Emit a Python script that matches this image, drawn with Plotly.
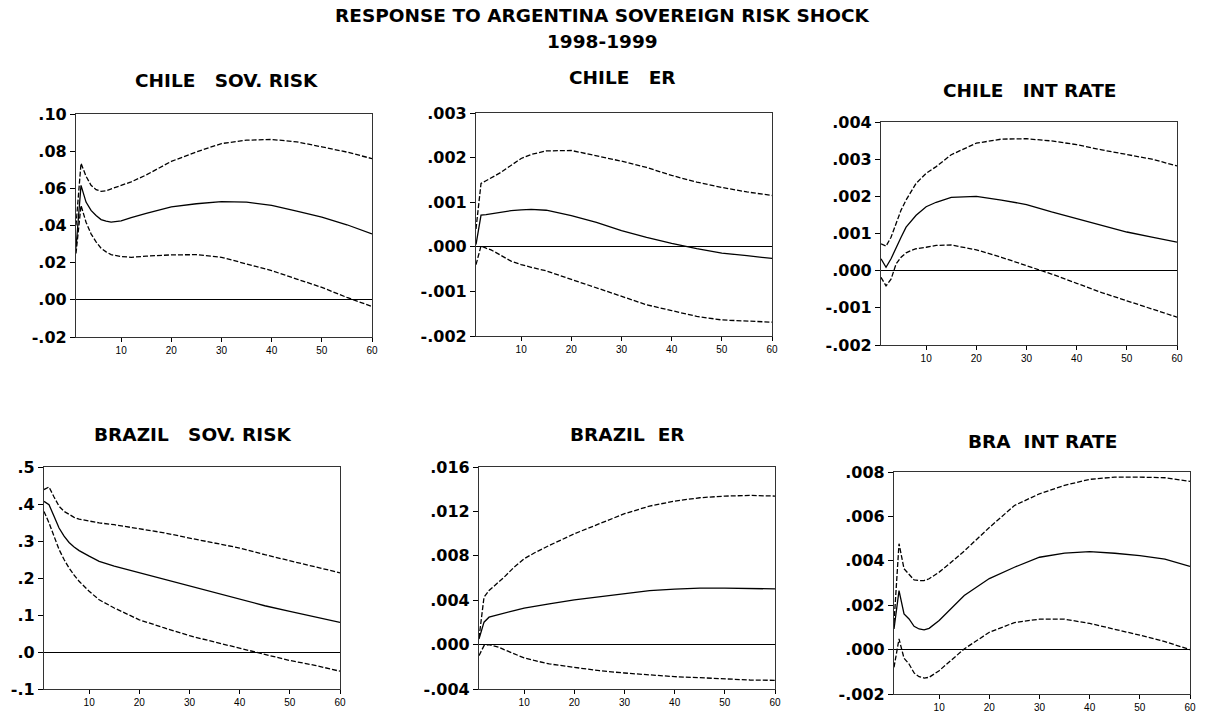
import plotly.graph_objects as go

# ---------------- data ----------------
periods = [1, 2, 3, 4, 5, 6, 7, 8, 10, 12, 15, 20, 25, 30, 35, 40, 45, 50, 55, 60]

chile_sov_mid = [0.028, 0.0616, 0.0526, 0.0481, 0.0454, 0.0432, 0.0423, 0.0418, 0.0425, 0.0443,
                 0.0465, 0.0500, 0.0517, 0.0528, 0.0526, 0.0508, 0.0477, 0.0445, 0.0404, 0.0355]
chile_sov_up = [0.040, 0.0735, 0.0665, 0.0616, 0.0593, 0.0584, 0.0587, 0.0598, 0.0616, 0.0635,
                0.0672, 0.0745, 0.0796, 0.0841, 0.0859, 0.0863, 0.0850, 0.0823, 0.0795, 0.0760]
chile_sov_lo = [0.025, 0.0508, 0.0418, 0.0355, 0.0312, 0.0278, 0.0258, 0.0243, 0.0233, 0.0229,
                0.0235, 0.0242, 0.0243, 0.0229, 0.0193, 0.0157, 0.0112, 0.0067, 0.0013, -0.0036]

chile_er_mid = [0.00005, 0.00071, 0.00072, 0.00074, 0.00075, 0.00077, 0.00079, 0.00081, 0.00083, 0.00084,
                0.00082, 0.00070, 0.00055, 0.00036, 0.00021, 0.000075, -0.00004, -0.00014, -0.00020, -0.00026]
chile_er_up = [0.0004, 0.00142, 0.00148, 0.00154, 0.00160, 0.00167, 0.00175, 0.00183, 0.00198, 0.00207,
               0.00215, 0.00216, 0.00204, 0.00192, 0.00178, 0.00160, 0.00145, 0.00133, 0.00123, 0.00115]
chile_er_lo = [-0.0004, 0.00002, -0.00003, -0.00007, -0.00013, -0.00020, -0.00026, -0.00032, -0.00040, -0.00046,
               -0.00054, -0.00073, -0.00092, -0.00110, -0.00130, -0.00143, -0.00156, -0.00164, -0.00167, -0.00169]

chile_int_mid = [0.00032, 0.00009, 0.00032, 0.00063, 0.00090, 0.00117, 0.00134, 0.00149, 0.00172, 0.00184,
                 0.00197, 0.00200, 0.00190, 0.00178, 0.00158, 0.00140, 0.00122, 0.00104, 0.00090, 0.00077]
chile_int_up = [0.00072, 0.00066, 0.00090, 0.00127, 0.00163, 0.00190, 0.00213, 0.00235, 0.00262, 0.00280,
                0.00312, 0.00343, 0.00354, 0.00355, 0.00349, 0.00339, 0.00325, 0.00312, 0.00300, 0.00282]
chile_int_lo = [-0.00018, -0.00041, -0.00023, 0.00018, 0.00036, 0.00048, 0.00054, 0.00059, 0.00063, 0.00068,
                0.00069, 0.00056, 0.00036, 0.00014, -0.00009, -0.00034, -0.00059, -0.00081, -0.00104, -0.00125]

brazil_sov_mid = [0.407, 0.398, 0.367, 0.335, 0.313, 0.296, 0.284, 0.274, 0.259, 0.245,
                  0.232, 0.214, 0.195, 0.177, 0.159, 0.143, 0.125, 0.110, 0.095, 0.080]
brazil_sov_up = [0.439, 0.446, 0.419, 0.394, 0.380, 0.371, 0.364, 0.359, 0.353, 0.349,
                 0.344, 0.333, 0.322, 0.308, 0.295, 0.281, 0.263, 0.247, 0.232, 0.214]
brazil_sov_lo = [0.380, 0.349, 0.313, 0.277, 0.250, 0.227, 0.208, 0.191, 0.164, 0.141,
                 0.119, 0.087, 0.065, 0.044, 0.027, 0.011, -0.007, -0.023, -0.036, -0.052]

brazil_er_mid = [0.0005, 0.00202, 0.00247, 0.00260, 0.00270, 0.00283, 0.00295, 0.00307, 0.00328, 0.00345,
                 0.00367, 0.00403, 0.00433, 0.00463, 0.00487, 0.00499, 0.00508, 0.00508, 0.00508, 0.00502]
brazil_er_up = [0.0006, 0.00427, 0.00487, 0.00525, 0.00562, 0.00607, 0.00652, 0.00698, 0.00773, 0.00825,
                0.00893, 0.00998, 0.01089, 0.01179, 0.01248, 0.01293, 0.01323, 0.01338, 0.01344, 0.01338]
brazil_er_lo = [-0.00099, -0.00009, 0.0, -0.00010, -0.00024, -0.00045, -0.00065, -0.00084, -0.00120, -0.00143,
                -0.00174, -0.00205, -0.00235, -0.00256, -0.00274, -0.00289, -0.00298, -0.00310, -0.00319, -0.00322]

bra_int_mid = [0.00093, 0.00266, 0.00161, 0.00138, 0.00105, 0.00093, 0.00089, 0.00096, 0.00131, 0.00176,
               0.00244, 0.00320, 0.00371, 0.00416, 0.00435, 0.00441, 0.00434, 0.00423, 0.00408, 0.00375]
bra_int_up = [0.0012, 0.00477, 0.00364, 0.00341, 0.00314, 0.00311, 0.00311, 0.00319, 0.00349, 0.00386,
              0.00444, 0.00550, 0.00649, 0.00702, 0.00740, 0.00767, 0.00777, 0.00777, 0.00774, 0.00758]
bra_int_lo = [-0.0008, 0.00048, -0.00039, -0.00065, -0.00105, -0.00122, -0.00128, -0.00125, -0.00095, -0.00057,
              0.00003, 0.00078, 0.00122, 0.00137, 0.00137, 0.00118, 0.00092, 0.00065, 0.00036, 0.0]

panel_titles = ["CHILE   SOV. RISK", "CHILE   ER", "CHILE   INT RATE",
                "BRAZIL   SOV. RISK", "BRAZIL  ER", "BRA  INT RATE"]

x_tickvals = [10, 20, 30, 40, 50, 60]
x_ticktext = ["10", "20", "30", "40", "50", "60"]

y_tickvals_1 = [-0.02, 0.0, 0.02, 0.04, 0.06, 0.08, 0.10]
y_ticktext_1 = ["-.02", ".00", ".02", ".04", ".06", ".08", ".10"]
y_tickvals_2 = [-0.002, -0.001, 0.0, 0.001, 0.002, 0.003]
y_ticktext_2 = ["-.002", "-.001", ".000", ".001", ".002", ".003"]
y_tickvals_3 = [-0.002, -0.001, 0.0, 0.001, 0.002, 0.003, 0.004]
y_ticktext_3 = ["-.002", "-.001", ".000", ".001", ".002", ".003", ".004"]
y_tickvals_4 = [-0.1, 0.0, 0.1, 0.2, 0.3, 0.4, 0.5]
y_ticktext_4 = ["-.1", ".0", ".1", ".2", ".3", ".4", ".5"]
y_tickvals_5 = [-0.004, 0.0, 0.004, 0.008, 0.012, 0.016]
y_ticktext_5 = ["-.004", ".000", ".004", ".008", ".012", ".016"]
y_tickvals_6 = [-0.002, 0.0, 0.002, 0.004, 0.006, 0.008]
y_ticktext_6 = ["-.002", ".000", ".002", ".004", ".006", ".008"]

# ---------------- layout helpers ----------------
W, H = 1205, 713
# plot boxes in pixels: (left, right, top, bottom)
boxes = [(76, 372, 114, 337), (476, 772, 113, 336), (881, 1177, 122, 345),
         (44, 340, 467, 689), (479, 775, 467, 689), (894, 1190, 472, 694)]
title_pos = [(226, 80), (622, 77), (1030, 90), (192, 434), (627, 435), (1042, 441)]

panels = [
    (chile_sov_mid, chile_sov_up, chile_sov_lo, y_tickvals_1, y_ticktext_1),
    (chile_er_mid, chile_er_up, chile_er_lo, y_tickvals_2, y_ticktext_2),
    (chile_int_mid, chile_int_up, chile_int_lo, y_tickvals_3, y_ticktext_3),
    (brazil_sov_mid, brazil_sov_up, brazil_sov_lo, y_tickvals_4, y_ticktext_4),
    (brazil_er_mid, brazil_er_up, brazil_er_lo, y_tickvals_5, y_ticktext_5),
    (bra_int_mid, bra_int_up, bra_int_lo, y_tickvals_6, y_ticktext_6),
]

fig = go.Figure()
layout = dict(
    width=W, height=H, margin=dict(l=0, r=0, t=0, b=0, autoexpand=False),
    paper_bgcolor="white", plot_bgcolor="white", showlegend=False,
    annotations=[],
)

bold_font = "DejaVu Sans, Arial, sans-serif"

for i, (mid, up, lo, ytv, ytt) in enumerate(panels):
    n = i + 1
    xa = "x" if n == 1 else f"x{n}"
    ya = "y" if n == 1 else f"y{n}"
    for series, dash in ((up, "5px,2px"), (lo, "5px,2px"), (mid, "solid")):
        fig.add_trace(go.Scatter(x=periods, y=series, mode="lines", xaxis=xa, yaxis=ya,
                                 line=dict(color="black", width=1.3, dash=dash),
                                 hoverinfo="skip"))
    l, r, t, b = boxes[i]
    xkey = "xaxis" if n == 1 else f"xaxis{n}"
    ykey = "yaxis" if n == 1 else f"yaxis{n}"
    layout[xkey] = dict(
        domain=[l / W, r / W], anchor=ya, range=[1, 60], automargin=False,
        tickmode="array", tickvals=x_tickvals, ticktext=x_ticktext,
        ticks="outside", ticklen=4, tickwidth=1, tickcolor="black",
        showline=True, mirror=True, linecolor="#333", linewidth=1.2,
        showgrid=False, zeroline=False,
        tickfont=dict(family="Liberation Sans, Arial, sans-serif", size=10, color="black"),
    )
    layout[ykey] = dict(
        domain=[1 - b / H, 1 - t / H], anchor=xa, range=[ytv[0], ytv[-1]], automargin=False,
        tickmode="array", tickvals=ytv, ticktext=ytt,
        ticks="outside", ticklen=5, tickwidth=1, tickcolor="black",
        showline=True, mirror=True, linecolor="#333", linewidth=1.2,
        showgrid=False, zeroline=True, zerolinecolor="black", zerolinewidth=1,
        tickfont=dict(family=bold_font, size=16, color="black", weight="bold"),
    )
    tx, ty = title_pos[i]
    layout["annotations"].append(dict(
        text=panel_titles[i], x=tx / W, y=1 - ty / H, xref="paper", yref="paper",
        xanchor="center", yanchor="middle", showarrow=False,
        font=dict(family=bold_font, size=18.5, color="black", weight="bold"),
    ))

layout["annotations"].append(dict(
    text="RESPONSE TO ARGENTINA SOVEREIGN RISK SHOCK", x=602 / W, y=1 - 15.5 / H,
    xref="paper", yref="paper", xanchor="center", yanchor="middle", showarrow=False,
    font=dict(family=bold_font, size=18.5, color="black", weight="bold"),
))
layout["annotations"].append(dict(
    text="1998-1999", x=602 / W, y=1 - 41 / H,
    xref="paper", yref="paper", xanchor="center", yanchor="middle", showarrow=False,
    font=dict(family=bold_font, size=18.5, color="black", weight="bold"),
))

fig.update_layout(**layout)
fig.write_html("out.html", config={"displayModeBar": False},
               post_script="document.body.style.margin='0';document.body.style.overflow='hidden';")
